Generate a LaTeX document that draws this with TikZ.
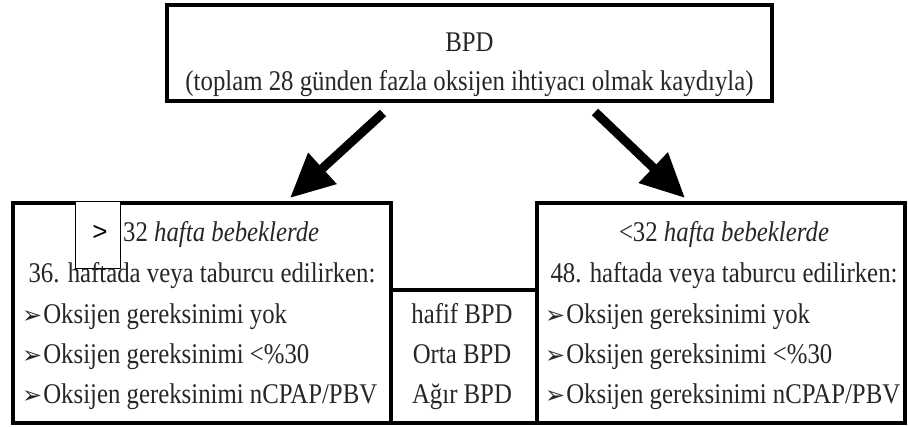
\documentclass[tikz,border=0pt]{standalone}
\usepackage{fontspec}
\setmainfont{Liberation Serif}[FakeStretch=0.87]
\newfontfamily\dejavu{DejaVu Sans}
\newfontfamily\arialfont{Liberation Sans}
\usetikzlibrary{arrows.meta}

% arrowhead bullet in front of each list item
\newcommand\itembullet{{\dejavu\bfseries\fontsize{24}{24}\selectfont ➢}\hspace{1pt}}

\begin{document}
\begin{tikzpicture}[x=1pt,y=-1pt,
  frame/.style={draw=black, line width=4pt, inner sep=0pt},
  txt/.style={inner sep=0pt, anchor=base, text=black!85, font=\fontsize{28.5}{30}\selectfont},
  item/.style={txt, anchor=base west},
  bigarrow/.style={line width=9pt, -{Triangle[length=44pt,width=40pt]}}]
\useasboundingbox (0,0) rectangle (908,427);
\fill[white] (0,0) rectangle (908,427);

% frames
\node[frame, minimum width=605pt, minimum height=96pt]  (top)   at (469.5,53)  {};
\node[frame, minimum width=378pt, minimum height=220pt] (left)  at (202,313)   {};
\node[frame, minimum width=368pt, minimum height=220pt] (right) at (721,313)   {};
\node[frame, minimum width=146pt, minimum height=133pt] (mid)   at (464,356.5) {};

% heading box
\node[txt] (t1) at (469.5,52) {BPD};
\node[txt] (t2) at (469.5,91) {(toplam 28 günden fazla oksijen ihtiyacı olmak kaydıyla)};

% arrows from the heading to the two groups
\coordinate (la) at (383,113);
\coordinate (lb) at (290,198);
\coordinate (ra) at (595,112);
\coordinate (rb) at (685,198);
\draw[bigarrow] (la) -- (lb);
\draw[bigarrow] (ra) -- (rb);

% left group
\node[txt, anchor=base west] (l0) at (123,242) {32 \textit{hafta bebeklerde}};
\node[draw=black, line width=1pt, fill=white, minimum width=45pt, minimum height=67pt, inner sep=0pt] (gt) at (97.5,235.5) {};
\node[inner sep=0pt, font=\arialfont\fontsize{26}{26}\selectfont] (gtsign) at (100,233) {>};
\node[txt] (l1) at (202,283) {36. haftada veya taburcu edilirken:};
\node[item] (l2) at (22,324) {\itembullet Oksijen gereksinimi yok};
\node[item] (l3) at (22,364) {\itembullet Oksijen gereksinimi <\%30};
\node[item] (l4) at (22,404) {\itembullet Oksijen gereksinimi nCPAP/PBV};

% severity column
\node[txt] (m1) at (462,324) {hafif BPD};
\node[txt] (m2) at (462,364) {Orta BPD};
\node[txt] (m3) at (462,404) {Ağır BPD};

% right group
\node[txt] (r0) at (724,242) {<32 \textit{hafta bebeklerde}};
\node[txt] (r1) at (724,283) {48. haftada veya taburcu edilirken:};
\node[item] (r2) at (545,324) {\itembullet Oksijen gereksinimi yok};
\node[item] (r3) at (545,364) {\itembullet Oksijen gereksinimi <\%30};
\node[item] (r4) at (545,404) {\itembullet Oksijen gereksinimi nCPAP/PBV};
\end{tikzpicture}
\end{document}
